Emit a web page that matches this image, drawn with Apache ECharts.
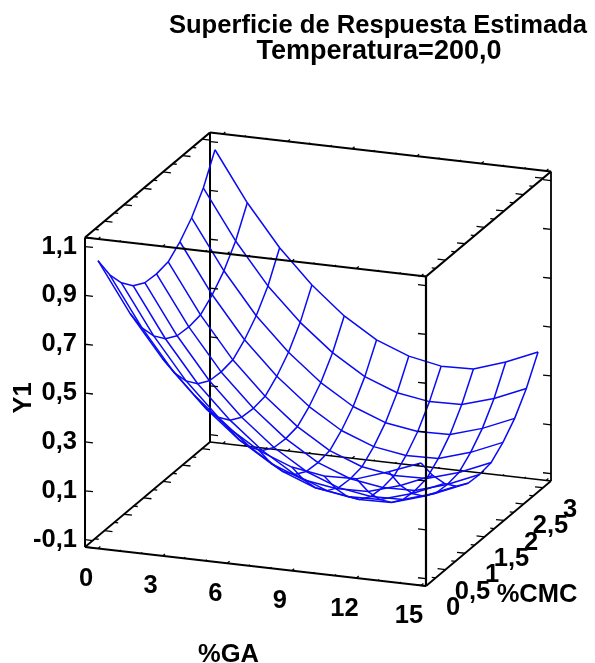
<!DOCTYPE html>
<html><head><meta charset="utf-8">
<style>html,body{margin:0;padding:0;background:#fff}#c{width:595px;height:663px}</style>
<script src="https://cdn.jsdelivr.net/npm/echarts@6/dist/echarts.min.js"></script>
</head><body><div id="c"></div>
<script>
const titleLines = ['Superficie de Respuesta Estimada', 'Temperatura=200,0'];
const gaValues = [0, 1.5, 3, 4.5, 6, 7.5, 9, 10.5, 12, 13.5, 15];
const cmcValues = [0, 0.3, 0.6, 0.9, 1.2, 1.5, 1.8, 2.1, 2.4, 2.7, 3];
// Y1, one row per %CMC value, one column per %GA value
const y1AtCmc00 = [1.048,.846,.677,.540,.428,.345,.294,.273,.276,.320,.371];
const y1AtCmc03 = [.950,.748,.579,.445,.336,.253,.202,.181,.184,.224,.280];
const y1AtCmc06 = [.877,.675,.506,.372,.263,.180,.129,.108,.111,.151,.207];
const y1AtCmc09 = [.825,.623,.454,.320,.211,.128,.077,.056,.059,.099,.155];
const y1AtCmc12 = [.797,.595,.426,.292,.183,.100,.049,.028,.031,.071,.127];
const y1AtCmc15 = [.793,.591,.422,.288,.179,.096,.045,.024,.027,.067,.123];
const y1AtCmc18 = [.802,.600,.431,.297,.188,.105,.054,.033,.036,.076,.132];
const y1AtCmc21 = [.844,.642,.473,.339,.230,.147,.096,.075,.078,.118,.174];
const y1AtCmc24 = [.902,.700,.531,.397,.288,.205,.154,.133,.136,.176,.232];
const y1AtCmc27 = [.984,.782,.613,.479,.370,.287,.236,.215,.218,.258,.314];
const y1AtCmc30 = [1.100,.898,.729,.592,.480,.397,.346,.320,.323,.367,.423];
const y1Rows = [y1AtCmc00,y1AtCmc03,y1AtCmc06,y1AtCmc09,y1AtCmc12,y1AtCmc15,y1AtCmc18,y1AtCmc21,y1AtCmc24,y1AtCmc27,y1AtCmc30];
const gaTickLabels = ['0','3','6','9','12','15'];
const gaTicks = [0,3,6,9,12,15];
const gaMinorTicks = [1,2,4,5,7,8,10,11,13,14];
const cmcTickLabels = ['0','0,5','1','1,5','2','2,5','3'];
const cmcTicks = [0,0.5,1,1.5,2,2.5,3];
const cmcMinorTicks = [0.25,0.75,1.25,1.75,2.25,2.75];
const y1Ticks = [-0.1,0.1,0.3,0.5,0.7,0.9,1.1];
const y1TickLabels = ['-0,1','0,1','0,3','0,5','0,7','0,9','1,1'];

// box domain and oblique projection on to a plane measured in page units
const gaDomain = [-0.604, 15.23], cmcDomain = [0, 3.205], y1Domain = [-0.13, 1.137];
function project(ga, cmc, y1) {
  const u = (ga - gaDomain[0]) / (gaDomain[1] - gaDomain[0]);
  const v = (cmc - cmcDomain[0]) / (cmcDomain[1] - cmcDomain[0]);
  const w = (y1 - y1Domain[0]) / (y1Domain[1] - y1Domain[0]);
  return [85 + 341 * u + 125 * v, 547 + 39 * u - 105 * v - 309.5 * w];
}
const [g0, g1] = gaDomain, [c0, c1] = cmcDomain, [z0, z1] = y1Domain;
const backEdges = [
  [[g0,c1,z0],[g0,c1,z1],2],[[g1,c1,z0],[g1,c1,z1],1.8],
  [[g0,c0,z0],[g0,c1,z0],1.8],[[g0,c1,z0],[g1,c1,z0],1.6],[[g1,c0,z0],[g1,c1,z0],1.8],
  [[g0,c0,z0],[g0,c0,z1],2],[[g0,c0,z0],[g1,c0,z0],1.8]
];
const frontEdges = [
  [[g1,c0,z0],[g1,c0,z1],2.2],
  [[g0,c0,z1],[g1,c0,z1],2],[[g0,c0,z1],[g0,c1,z1],2.2],[[g1,c0,z1],[g1,c1,z1],2.2],[[g0,c1,z1],[g1,c1,z1],2]
];
function tickSeg(p, axis, len) {
  const q = p.slice();
  q[axis] += len;
  return [p, q, 1.3];
}
const tickSegs = [];
const dGa = 0.37, dCmc = 0.06;
y1Ticks.forEach(t => {
  tickSegs.push(tickSeg([g0,c0,t],0,dGa), tickSeg([g0,c1,t],0,dGa), tickSeg([g1,c0,t],0,-dGa), tickSeg([g1,c1,t],0,-dGa));
});
cmcTicks.forEach(t => {
  [[g0,1],[g1,-1]].forEach(([g,s]) => [z0,z1].forEach(z => tickSegs.push(tickSeg([g,t,z],0,s*dGa))));
});
cmcMinorTicks.forEach(t => {
  [[g0,1],[g1,-1]].forEach(([g,s]) => [z0,z1].forEach(z => tickSegs.push(tickSeg([g,t,z],0,s*dGa*0.5))));
});
gaTicks.forEach(t => {
  [c0,c1].forEach(c => [z0,z1].forEach(z => tickSegs.push(tickSeg([t,c,z],1,dCmc))));
});
gaMinorTicks.forEach(t => {
  [c0,c1].forEach(c => [z0,z1].forEach(z => tickSegs.push(tickSeg([t,c,z],1,dCmc*0.5))));
});

const FONT = '"Liberation Sans", Arial, sans-serif';
const texts = [];
gaTicks.forEach((t,i) => { const p = project(t,c0,z0); texts.push([p[0]-12,p[1]+30.5,gaTickLabels[i],'center',0]); });
cmcTicks.forEach((t,i) => { const p = project(g1,t,z0); texts.push([p[0]+27,p[1]+22,cmcTickLabels[i],'center',0]); });
y1Ticks.forEach((t,i) => { const p = project(g0,c0,t); texts.push([p[0]-8,p[1],y1TickLabels[i],'right',0]); });
texts.push([537,595,'%CMC','center',0],[228.5,655,'%GA','center',0],[24,398,'Y1','center',Math.PI/2]);

function segSeries(segs, z) {
  return {
    type:'custom', coordinateSystem:'cartesian2d', silent:true, animation:false, z,
    data: segs.map((s,i)=>[i]), encode:{x:0,y:0}, clip:false,
    renderItem(params, api) {
      const s = segs[params.dataIndex];
      const a = api.coord(project(...s[0])), b = api.coord(project(...s[1]));
      return {type:'line', shape:{x1:a[0],y1:a[1],x2:b[0],y2:b[1]}, style:{stroke:'#000',lineWidth:s[2]}};
    }
  };
}
const surfStyle = {color:'#0a0af5', width:1.5};
function polySeries(points) {
  return {type:'line', data:points, symbol:'none', silent:true, animation:false, z:3, lineStyle:surfStyle, itemStyle:{color:surfStyle.color}, clip:false};
}
const series = [segSeries(backEdges,1)];
y1Rows.forEach((row,j)=> series.push(polySeries(row.map((v,i)=>project(gaValues[i],cmcValues[j],v)))));
gaValues.forEach((g,i)=> series.push(polySeries(y1Rows.map((row,j)=>project(g,cmcValues[j],row[i])))));
series.push(segSeries(tickSegs,4), segSeries(frontEdges,5));
series.push({
  type:'custom', coordinateSystem:'cartesian2d', silent:true, animation:false, z:6, clip:false,
  data:texts.map((t,i)=>[i]), encode:{x:0,y:0},
  renderItem(params, api) {
    const t = texts[params.dataIndex];
    const c = api.coord([t[0],t[1]]);
    return {type:'text', x:c[0], y:c[1], rotation:t[4], style:{text:t[2], fill:'#000', font:'bold 25.5px '+FONT, textAlign:t[3], textVerticalAlign:'middle'}};
  }
});
const chart = echarts.init(document.getElementById('c'), null, {renderer:'canvas'});
chart.setOption({
  animation:false, backgroundColor:'#fff',
  title:[
    {text:titleLines[0], left:373, top:8, textAlign:'center', textStyle:{fontFamily:FONT,fontWeight:'bold',fontSize:25.6,color:'#000'}},
    {text:titleLines[1], left:374, top:33, textAlign:'center', textStyle:{fontFamily:FONT,fontWeight:'bold',fontSize:27,color:'#000'}}
  ],
  grid:{left:0,right:0,top:0,bottom:0},
  xAxis:{type:'value',min:0,max:595,show:false},
  yAxis:{type:'value',min:0,max:663,inverse:true,show:false},
  series
});
</script></body></html>
